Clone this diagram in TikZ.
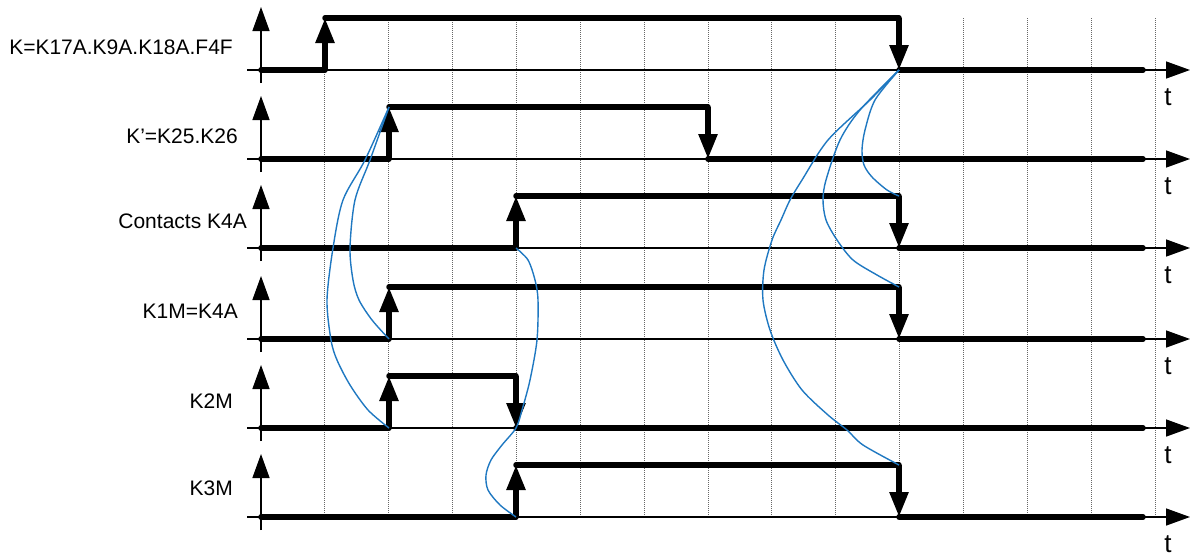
\documentclass[tikz,border=0pt]{standalone}
\usepackage{fontspec}
\setmainfont{Liberation Sans}
\usetikzlibrary{arrows.meta}
\definecolor{linkblue}{HTML}{1F78C1}

\tikzset{
  gridline/.style={black!60,line width=0.9pt,dash pattern=on 1pt off 1pt},
  axis/.style={line width=1.4pt,-{Triangle[length=24pt,width=17pt]}},
  signal/.style={line width=5.5pt,line cap=round},
  flank/.style={line width=5.5pt,-{Triangle[length=25pt,width=18pt]}},
  link/.style={linkblue,line width=1.4pt},
  lbl/.style={font=\fontsize{21}{24}\selectfont,anchor=base east,inner sep=0pt},
  tlbl/.style={font=\fontsize{26}{28}\selectfont,anchor=base,inner sep=0pt}
}

\begin{document}
\begin{tikzpicture}[x=1pt,y=-1pt]
  \useasboundingbox (0,0) rectangle (1190,552);

  % raster
  \foreach \i in {1,...,14}
    \draw[gridline] (261+63.86*\i,18) -- (261+63.86*\i,517);

  % rows: baseline / rise / fall / number
  \foreach \b/\r/\f/\n in {70/325/899/1,159/389/708/2,248/516/899/3,339/389/899/4,428/389/516/5,517/516/899/6}{
    \pgfmathsetmacro\h{\b-52}
    \draw[axis] (247,\b) -- (1190,\b);
    \draw[axis] (261,\b+13) -- (261,\b-63);
    \node[tlbl] (t\n) at (1168,\b+35) {t};
    \coordinate (lo\n) at (\r,\b);
    \coordinate (hi\n) at (\r,\h);
    \coordinate (fh\n) at (\f,\h);
    \coordinate (fl\n) at (\f,\b);
    \draw[signal] (261,\b) -- (lo\n);
    \draw[flank] (lo\n) -- (hi\n);
    \draw[signal] (hi\n) -- (fh\n);
    \draw[flank] (fh\n) -- (fl\n);
    \draw[signal] (fl\n) -- (1143,\b);
  }

  % names
  \node[lbl] (k)   at (233,54)  {K=K17A.K9A.K18A.F4F};
  \node[lbl] (kp)  at (238,143) {K’=K25.K26};
  \node[lbl] (k4a) at (247,228) {Contacts K4A};
  \node[lbl] (k1m) at (238,318) {K1M=K4A};
  \node[lbl] (k2m) at (233,408) {K2M};
  \node[lbl] (k3m) at (233,495) {K3M};

  % links
  \draw[link] plot[smooth] coordinates {(hi2) (365,160) (343,200) (333,248) (327,300) (331,340) (337,360) (350,385) (368,410) (lo5)};
  \draw[link] plot[smooth] coordinates {(hi2) (370,160) (355,200) (350,248) (353,280) (359,300) (372,320) (lo4)};
  \draw[link] plot[smooth] coordinates {(lo3) (528,260) (535,280) (538,300) (537,340) (530,380) (522,410) (fl5) (502,445) (491,460) (486,475) (488,490) (500,505) (lo6)};
  \draw[link] plot[smooth] coordinates {(fl1) (875,100) (865,130) (862,150) (864,165) (872,177) (887,190) (fh3)};
  \draw[link] plot[smooth] coordinates {(fl1) (860,110) (840,140) (826,180) (823,200) (826,220) (837,240) (853,260) (877,275) (fh4)};
  \draw[link] plot[smooth] coordinates {(fl1) (870,100) (828,140) (802,180) (790,200) (781,220) (772,240) (764,270) (763,300) (770,330) (783,360) (802,390) (828,415) (847,430) (863,445) (fh6)};
\end{tikzpicture}
\end{document}
